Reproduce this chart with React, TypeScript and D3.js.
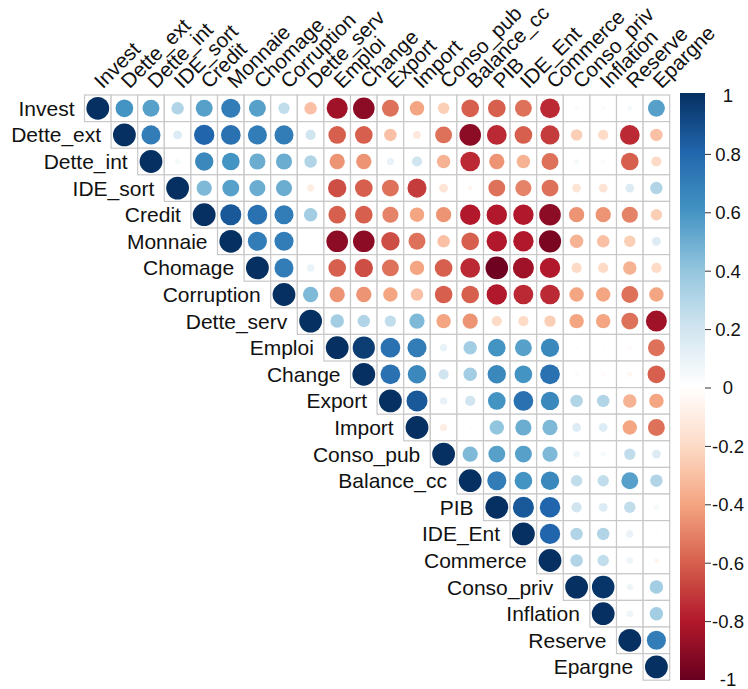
import React, { useEffect, useRef } from "react";
import * as d3 from "d3";

const variables = [
  "Invest", "Dette_ext", "Dette_int", "IDE_sort", "Credit", "Monnaie", "Chomage",
  "Corruption", "Dette_serv", "Emploi", "Change", "Export", "Import", "Conso_pub",
  "Balance_cc", "PIB", "IDE_Ent", "Commerce", "Conso_priv", "Inflation", "Reserve", "Epargne",
];

// Upper triangle rows: row i holds correlations with columns i..21
const rowInvest = [1, 0.6, 0.55, 0.3, 0.55, 0.7, 0.55, 0.25, -0.3, -0.85, -0.9, -0.55, -0.4, -0.25, -0.6, -0.6, -0.55, -0.75, 0.03, 0.03, 0.05, 0.55];
const rowDetteExt = [1, 0.7, 0.15, 0.8, 0.75, 0.7, 0.7, 0.2, -0.6, -0.6, -0.3, -0.12, -0.55, -0.9, -0.75, -0.6, -0.7, -0.25, -0.2, -0.75, -0.3];
const rowDetteInt = [1, 0.05, 0.65, 0.6, 0.5, 0.5, 0.3, -0.45, -0.45, 0.1, 0.2, -0.35, -0.75, -0.45, -0.35, -0.55, 0.05, 0.03, -0.6, -0.2];
const rowIDESort = [1, 0.45, 0.55, 0.5, 0.5, -0.1, -0.65, -0.6, -0.55, -0.7, -0.15, -0.05, -0.55, -0.5, -0.55, -0.15, -0.15, 0.15, 0.3];
const rowCredit = [1, 0.85, 0.75, 0.7, 0.35, -0.6, -0.6, -0.5, -0.4, -0.45, -0.8, -0.8, -0.8, -0.9, -0.45, -0.45, -0.5, -0.25];
const rowMonnaie = [1, 0.7, 0.7, 0.01, -0.9, -0.9, -0.65, -0.55, -0.3, -0.6, -0.8, -0.8, -0.95, -0.35, -0.3, -0.25, 0.15];
const rowChomage = [1, 0.7, 0.1, -0.6, -0.65, -0.55, -0.4, -0.6, -0.75, -0.98, -0.85, -0.8, -0.2, -0.2, -0.35, -0.2];
const rowCorruption = [1, 0.45, -0.45, -0.45, -0.4, -0.3, -0.6, -0.6, -0.8, -0.75, -0.75, -0.4, -0.4, -0.55, -0.4];
const rowDetteServ = [1, 0.35, 0.3, 0.25, 0.45, -0.4, -0.45, -0.2, -0.2, -0.25, -0.4, -0.4, -0.55, -0.85];
const rowEmploi = [1, 0.95, 0.75, 0.7, 0.1, 0.35, 0.6, 0.55, 0.65, 0.02, 0.02, -0.03, -0.55];
const rowChange = [1, 0.75, 0.65, 0.2, 0.35, 0.65, 0.6, 0.75, -0.03, -0.03, -0.05, -0.6];
const rowExport = [1, 0.85, 0.1, 0.2, 0.6, 0.75, 0.65, 0.3, 0.3, -0.35, -0.4];
const rowImport = [1, -0.1, 0.02, 0.4, 0.5, 0.45, 0.15, 0.15, -0.4, -0.55];
const rowConsoPub = [1, 0.45, 0.55, 0.55, 0.45, 0.08, 0.05, 0.25, 0.15];
const rowBalanceCc = [1, 0.7, 0.6, 0.65, 0.25, 0.25, 0.55, 0.3];
const rowPIB = [1, 0.85, 0.8, 0.2, 0.15, 0.25, 0.05];
const rowIDEEnt = [1, 0.8, 0.3, 0.3, 0.1, 0.02];
const rowCommerce = [1, 0.3, 0.25, 0.08, -0.05];
const rowConsoPriv = [1, 0.98, 0.08, 0.35];
const rowInflation = [1, 0.08, 0.35];
const rowReserve = [1, 0.7];
const rowEpargne = [1];

const upperRows = [
  rowInvest, rowDetteExt, rowDetteInt, rowIDESort, rowCredit, rowMonnaie, rowChomage,
  rowCorruption, rowDetteServ, rowEmploi, rowChange, rowExport, rowImport, rowConsoPub,
  rowBalanceCc, rowPIB, rowIDEEnt, rowCommerce, rowConsoPriv, rowInflation, rowReserve, rowEpargne,
];

const legendTicks = [1, 0.8, 0.6, 0.4, 0.2, 0, -0.2, -0.4, -0.6, -0.8, -1];
const paletteColors = ["#67001F", "#B2182B", "#D6604D", "#F4A582", "#FDDBC7", "#FFFFFF", "#D1E5F0", "#92C5DE", "#4393C3", "#2166AC", "#053061"];

const W = 748;
const H = 689;
const FONT = "'Liberation Sans', Arial, sans-serif";

export default function App() {
  const ref = useRef<SVGSVGElement | null>(null);

  useEffect(() => {
    const svg = d3.select(ref.current);
    svg.selectAll("*").remove();

    const gridLeft = 84.5;
    const gridTop = 95;
    const cell = 26.6;
    const n = variables.length;

    const x = d3.scaleBand<string>().domain(variables).range([gridLeft, gridLeft + n * cell]).padding(0);
    const y = d3.scaleBand<string>().domain(variables).range([gridTop, gridTop + n * cell]).padding(0);
    const color = d3
      .scaleLinear<string>()
      .domain(d3.range(paletteColors.length).map((i) => -1 + (2 * i) / (paletteColors.length - 1)))
      .range(paletteColors)
      .interpolate(d3.interpolateRgb);
    const rScale = d3.scaleSqrt().domain([0, 1]).range([0, 11.4]);

    const cells: { row: string; col: string; v: number }[] = [];
    upperRows.forEach((vals, i) => {
      vals.forEach((v, k) => {
        cells.push({ row: variables[i], col: variables[i + k], v });
      });
    });

    const bw = x.bandwidth();

    svg
      .append("g")
      .selectAll("rect")
      .data(cells)
      .join("rect")
      .attr("x", (d) => x(d.col)!)
      .attr("y", (d) => y(d.row)!)
      .attr("width", bw)
      .attr("height", bw)
      .attr("fill", "white")
      .attr("stroke", "#C8C8C8")
      .attr("stroke-width", 1.2);

    svg
      .append("g")
      .selectAll("circle")
      .data(cells)
      .join("circle")
      .attr("cx", (d) => x(d.col)! + bw / 2)
      .attr("cy", (d) => y(d.row)! + bw / 2)
      .attr("r", (d) => rScale(Math.abs(d.v)))
      .attr("fill", (d) => color(d.v));

    svg
      .append("g")
      .selectAll("text")
      .data(variables)
      .join("text")
      .attr("x", (d) => x(d)! - 10)
      .attr("y", (d) => y(d)! + bw / 2)
      .attr("dy", "0.36em")
      .attr("text-anchor", "end")
      .attr("font-family", FONT)
      .attr("font-size", 21)
      .attr("fill", "#111")
      .text((d) => d);

    svg
      .append("g")
      .selectAll("text")
      .data(variables)
      .join("text")
      .attr("transform", (d) => `translate(${x(d)! + bw / 2 + 5},${gridTop - 5.5}) rotate(-45)`)
      .attr("text-anchor", "start")
      .attr("font-family", FONT)
      .attr("font-size", 20.6)
      .attr("fill", "#111")
      .text((d) => d);

    const barX = 680;
    const barW = 25;
    const barTop = 93;
    const barBottom = 680;
    const defs = svg.append("defs");
    const grad = defs
      .append("linearGradient")
      .attr("id", "cbar")
      .attr("x1", 0)
      .attr("y1", 1)
      .attr("x2", 0)
      .attr("y2", 0);
    paletteColors.forEach((c, i) => {
      grad
        .append("stop")
        .attr("offset", i / (paletteColors.length - 1))
        .attr("stop-color", c);
    });
    svg
      .append("rect")
      .attr("x", barX)
      .attr("y", barTop)
      .attr("width", barW)
      .attr("height", barBottom - barTop)
      .attr("fill", "url(#cbar)");

    const ly = d3.scaleLinear().domain([1, -1]).range([barTop + 3, barBottom]);
    const lg = svg.append("g");
    lg.selectAll("line")
      .data(legendTicks.filter((t) => Math.abs(t) < 1))
      .join("line")
      .attr("x1", barX + barW)
      .attr("x2", barX + barW + 6)
      .attr("y1", (d) => ly(d))
      .attr("y2", (d) => ly(d))
      .attr("stroke", "#333")
      .attr("stroke-width", 1);
    lg.selectAll("text")
      .data(legendTicks)
      .join("text")
      .attr("x", 728)
      .attr("y", (d) => ly(d))
      .attr("dy", "0.35em")
      .attr("text-anchor", "middle")
      .attr("font-family", FONT)
      .attr("font-size", 18.5)
      .attr("fill", "#111")
      .text((d) => String(d));
  }, []);

  return (
    <svg
      ref={ref}
      width={W}
      height={H}
      style={{ position: "absolute", left: 0, top: 0, background: "white" }}
    />
  );
}
